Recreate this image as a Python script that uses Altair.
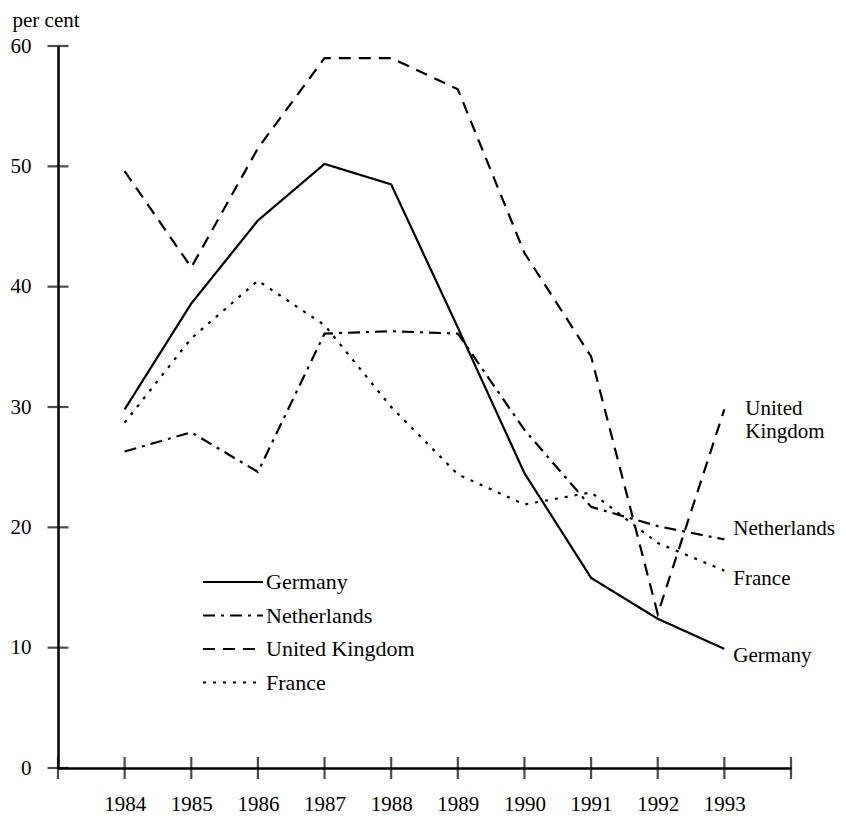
import altair as alt
import pandas as pd

years = [1984, 1985, 1986, 1987, 1988, 1989, 1990, 1991, 1992, 1993]
germany = [29.8, 38.6, 45.5, 50.2, 48.5, 36.6, 24.5, 15.8, 12.4, 9.9]
netherlands = [26.3, 27.9, 24.6, 36.1, 36.3, 36.1, 28.1, 21.7, 20.1, 19.0]
united_kingdom = [49.6, 41.6, 51.5, 59.0, 59.0, 56.4, 42.8, 34.2, 12.8, 29.8]
france = [28.7, 35.7, 40.5, 36.8, 30.0, 24.4, 21.9, 22.9, 18.7, 16.4]

series_names = ["Germany", "Netherlands", "United Kingdom", "France"]
series_values = [germany, netherlands, united_kingdom, france]
dashes = [[1, 0], [12, 6, 3, 6], [12, 8], [3, 7]]

y_ticks = [0, 10, 20, 30, 40, 50, 60]
x_ticks = [1983, 1984, 1985, 1986, 1987, 1988, 1989, 1990, 1991, 1992, 1993, 1994]

FONT = "Liberation Serif"

rows = []
for name, vals in zip(series_names, series_values):
    for yr, v in zip(years, vals):
        rows.append({"year": yr, "value": v, "series": name})
df = pd.DataFrame(rows)

xscale = alt.Scale(domain=[1983, 1994], nice=False, zero=False)
yscale = alt.Scale(domain=[0, 60], nice=False)

lines = alt.Chart(df).mark_line(strokeWidth=2.2, color="black").encode(
    x=alt.X("year:Q", scale=xscale,
            axis=alt.Axis(values=x_ticks, format="d", title=None, grid=False,
                          ticks=False, labelPadding=25, labelFlush=False,
                          labelOverlap=False,
                          labelExpr="datum.value >= 1984 && datum.value <= 1993 ? datum.label : ''",
                          labelFont=FONT, labelFontSize=21, labelColor="black",
                          domainColor="black", domainWidth=2.5)),
    y=alt.Y("value:Q", scale=yscale,
            axis=alt.Axis(values=y_ticks, title="per cent", grid=False, ticks=False,
                          labelPadding=27, labelFlush=False,
                          labelFont=FONT, labelFontSize=21, labelColor="black",
                          domainColor="black", domainWidth=2.5,
                          titleAngle=0, titleAlign="left", titleBaseline="middle",
                          titleX=-46, titleY=-26, titleFont=FONT, titleFontSize=21,
                          titleFontWeight="normal", titleColor="black")),
    strokeDash=alt.StrokeDash(
        "series:N",
        scale=alt.Scale(domain=series_names, range=dashes),
        legend=alt.Legend(title=None, orient="none", legendX=144, legendY=525,
                          symbolType="stroke", symbolSize=3600, symbolStrokeWidth=2,
                          symbolStrokeColor="black", clipHeight=22, rowPadding=11.5,
                          labelOffset=2, padding=0, labelFont=FONT, labelFontSize=22,
                          labelColor="black")),
    detail="series:N",
)

ytick_df = pd.DataFrame({"v": y_ticks})
xtick_df = pd.DataFrame({"v": x_ticks})

yt = alt.Chart(ytick_df).mark_tick(orient="horizontal", size=21, thickness=2.2, color="black").encode(
    y=alt.Y("v:Q", scale=yscale),
    x=alt.datum(1983, scale=xscale),
)
xt = alt.Chart(xtick_df).mark_tick(orient="vertical", size=22, thickness=2.2, color="black").encode(
    x=alt.X("v:Q", scale=xscale),
    y=alt.datum(0, scale=yscale),
)

end = {name: vals[-1] for name, vals in zip(series_names, series_values)}

def label(text, name, dx, dy):
    d = pd.DataFrame({"year": [years[-1]], "value": [end[name]], "t": [text]})
    return alt.Chart(d).mark_text(align="left", baseline="middle", dx=dx, dy=dy,
                                  font=FONT, fontSize=21, color="black",
                                  lineBreak="\n", lineHeight=23).encode(
        x=alt.X("year:Q", scale=xscale),
        y=alt.Y("value:Q", scale=yscale),
        text="t:N",
    )

labels = [
    label("United\nKingdom", "United Kingdom", 21, 0),
    label("Netherlands", "Netherlands", 9, -10),
    label("France", "France", 9, 8),
    label("Germany", "Germany", 9, 7),
]

chart = alt.layer(lines, yt, xt, *labels).properties(
    width=733, height=722,
    autosize=alt.AutoSizeParams(type="none"),
    padding={"left": 50, "top": 38, "right": 47, "bottom": 46},
    background="white",
).configure_view(stroke=None)

chart.save("out.html", embed_options={"renderer": "svg", "actions": False})
